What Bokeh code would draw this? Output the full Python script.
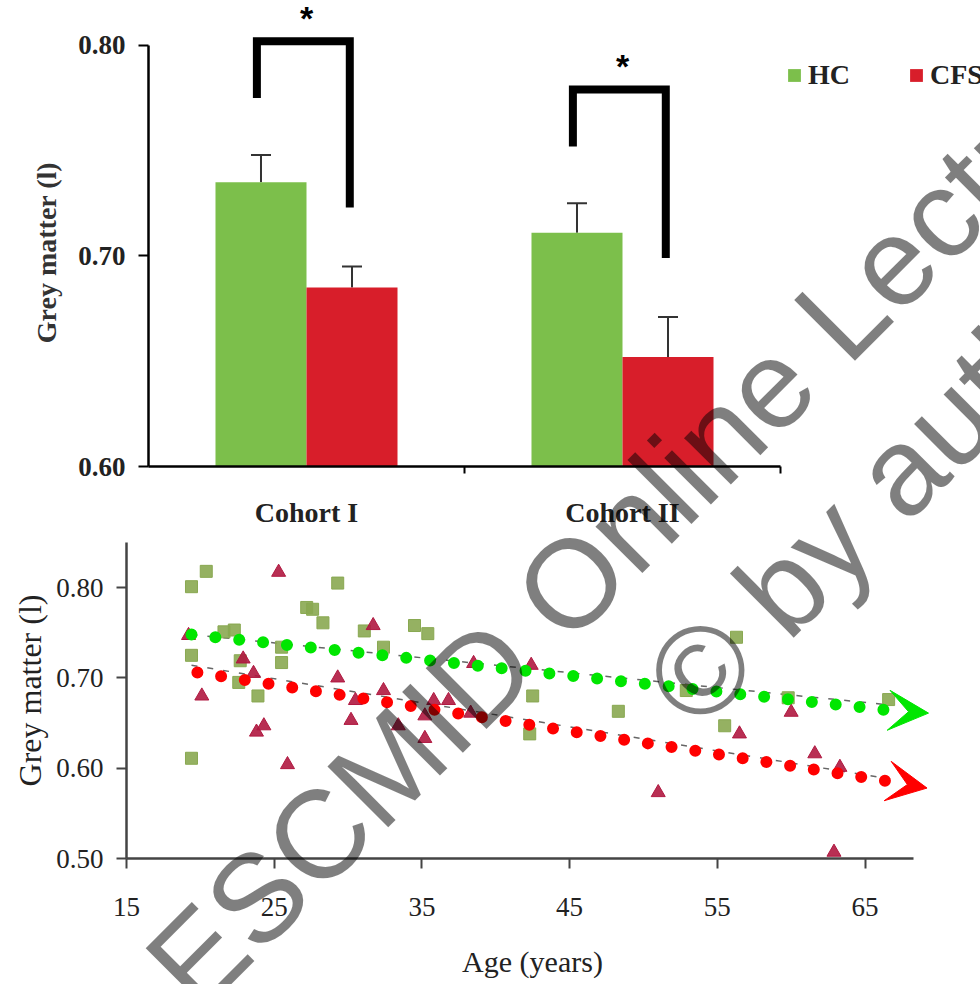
import numpy as np
from bokeh.plotting import figure
from bokeh.models import (ColumnDataSource, Range1d, FixedTicker, PrintfTickFormatter,
                          Whisker, TeeHead, Legend, LegendItem, Label, Arrow, VeeHead)
from bokeh.layouts import column
from bokeh.embed import file_html
from bokeh.resources import INLINE
from bokeh.core.properties import value

# ---------------- data: bar chart (top) ----------------
cohorts = ["Cohort I", "Cohort II"]
hc_mean = [0.735, 0.711]
hc_sem = [0.013, 0.014]
cfs_mean = [0.685, 0.652]
cfs_sem = [0.010, 0.019]
group_names = ["HC", "CFS"]
sig_marks = ["*", "*"]
bar_ticks = [0.60, 0.70, 0.80]
bar_ylabel = "Grey matter (l)"

# ---------------- data: scatter (bottom) ----------------
hc_age = [19.4, 20.4, 19.4, 19.4, 21.6, 22.3, 22.7, 22.6, 23.9, 25.5, 25.5, 27.2, 27.6,
          28.3, 29.3, 31.1, 32.4, 34.5, 35.4, 42.5, 42.3, 48.3, 52.9, 56.3, 55.5, 59.8, 66.6]
hc_gm = [0.801, 0.818, 0.725, 0.611, 0.751, 0.753, 0.719, 0.695, 0.680, 0.734, 0.717, 0.778, 0.776,
         0.761, 0.805, 0.752, 0.734, 0.758, 0.749, 0.680, 0.638, 0.663, 0.686, 0.745, 0.647, 0.678, 0.676]
cfs_age = [25.3, 19.2, 22.9, 20.1, 23.6, 23.8, 24.3, 25.9, 29.3, 31.7, 30.2, 30.5, 32.4, 33.4,
           35.2, 35.2, 35.8, 36.8, 38.5, 38.3, 42.4, 51.0, 56.5, 60.0, 61.6, 63.3, 62.9]
cfs_gm = [0.817, 0.747, 0.721, 0.680, 0.705, 0.640, 0.647, 0.604, 0.700, 0.758, 0.653, 0.675, 0.686, 0.647,
          0.658, 0.633, 0.675, 0.675, 0.716, 0.661, 0.714, 0.573, 0.638, 0.662, 0.616, 0.601, 0.507]
hc_fit_age = [19.4, 66.7]
hc_fit_gm = [0.748, 0.670]
cfs_fit_age = [19.4, 66.7]
cfs_fit_gm = [0.714, 0.588]
hc_arrow_age = [19.4, 66.7, 69.3]
hc_arrow_gm = [0.748, 0.664, 0.661]
cfs_arrow_age = [19.8, 66.8, 69.2]
cfs_arrow_gm = [0.706, 0.585, 0.578]
age_ticks = [15, 25, 35, 45, 55, 65]
gm_ticks = [0.50, 0.60, 0.70, 0.80]
scat_ylabel = "Grey matter (l)"
scat_xlabel = "Age (years)"

watermark = ["ESCMID Online Lecture", "\u00a9 by author"]

SERIF = "Liberation Serif"
SANS = "Liberation Sans"
GREEN = "#7cbf4b"
RED = "#d81e2a"

# ================= TOP: bar chart =================
top = figure(width=980, height=530, output_backend="svg", toolbar_location=None,
             x_range=Range1d(0, 832 / 316), y_range=Range1d(0.60, 0.60 + 467 / 2110),
             min_border_left=148, min_border_right=0, min_border_top=0, min_border_bottom=63,
             background_fill_color="white", border_fill_color="white")
top.outline_line_color = None
top.grid.visible = False

centers = np.arange(len(cohorts)) + 0.5
bw = 0.288
src_hc = ColumnDataSource(dict(x=centers - bw / 2, top=hc_mean,
                               upper=np.array(hc_mean) + np.array(hc_sem)))
src_cfs = ColumnDataSource(dict(x=centers + bw / 2, top=cfs_mean,
                                upper=np.array(cfs_mean) + np.array(cfs_sem)))
r_hc = top.vbar(x="x", top="top", bottom=0.60, width=bw, source=src_hc,
                fill_color=GREEN, line_color=None)
r_cfs = top.vbar(x="x", top="top", bottom=0.60, width=bw, source=src_cfs,
                 fill_color=RED, line_color=None)
for s in (src_hc, src_cfs):
    top.add_layout(Whisker(source=s, base="x", lower="top", upper="upper",
                           lower_head=None,
                           upper_head=TeeHead(size=20, line_width=2, line_color="#333333"),
                           line_width=2, line_color="#333333"))

# significance brackets
for i, c in enumerate(centers):
    lb = hc_mean[i] + hc_sem[i] + 0.027
    rb = cfs_mean[i] + cfs_sem[i] + 0.028
    tp = lb + 0.027
    top.line(x=[c - 0.157, c - 0.157, c + 0.137, c + 0.137], y=[lb, tp, tp, rb],
             line_width=8, line_color="black", line_join="miter", line_cap="butt")
    top.text(x=[c], y=[tp + 0.011], text=[sig_marks[i]], text_font=value(SANS),
             text_font_size="34px", text_font_style="bold", text_align="center",
             text_baseline="alphabetic", text_color="black")

yax = top.yaxis[0]
yax.bounds = (0.60, 0.80)
yax.ticker = FixedTicker(ticks=bar_ticks)
yax.formatter = PrintfTickFormatter(format="%.2f")
yax.axis_line_width = 2.5
yax.axis_line_color = "black"
yax.major_tick_out = 10
yax.major_tick_in = 0
yax.major_tick_line_width = 2
yax.minor_tick_line_color = None
yax.major_label_standoff = 13
yax.major_label_text_font = SERIF
yax.major_label_text_font_size = "27px"
yax.major_label_text_font_style = "bold"
yax.major_label_text_color = "#222222"

xax = top.xaxis[0]
xax.bounds = (0, len(cohorts))
xax.ticker = FixedTicker(ticks=list(centers), minor_ticks=list(np.arange(1, len(cohorts) + 1)))
xax.major_label_overrides = {float(c): n for c, n in zip(centers, cohorts)}
xax.major_tick_line_color = None
xax.major_tick_out = 0
xax.major_tick_in = 0
xax.minor_tick_out = 7
xax.minor_tick_in = 0
xax.minor_tick_line_width = 2
xax.minor_tick_line_color = "black"
xax.axis_line_width = 2.5
xax.axis_line_color = "black"
xax.major_label_standoff = 23
xax.major_label_text_font = SERIF
xax.major_label_text_font_size = "28px"
xax.major_label_text_font_style = "bold"
xax.major_label_text_color = "#222222"

legend = Legend(items=[LegendItem(label=group_names[0], renderers=[r_hc]),
                       LegendItem(label=group_names[1], renderers=[r_cfs])],
                orientation="horizontal", location=(638, 375), padding=0, margin=0,
                spacing=58, label_standoff=6, glyph_width=16, glyph_height=16,
                background_fill_alpha=0, border_line_color=None,
                label_text_font=SERIF, label_text_font_size="28px",
                label_text_font_style="bold", label_text_color="#222222")
top.add_layout(legend, "center")

# ================= BOTTOM: scatter =================
bot = figure(width=980, height=454, output_backend="svg", toolbar_location=None,
             x_range=Range1d(15, 15 + 854 / 14.77), y_range=Range1d(0.50, 0.50 + 318 / 903),
             min_border_left=126, min_border_right=0, min_border_top=10, min_border_bottom=126,
             background_fill_color="white", border_fill_color="white")
bot.outline_line_color = None
bot.grid.visible = False

bot.line(hc_fit_age, hc_fit_gm, line_color="#666666", line_width=1.5, line_dash="6 10")
bot.line(cfs_fit_age, cfs_fit_gm, line_color="#666666", line_width=1.5, line_dash="6 10")
bot.scatter(hc_age, hc_gm, marker="square", size=12, fill_color="#89a851",
            line_color="#89a851", fill_alpha=0.9)
bot.scatter(cfs_age, cfs_gm, marker="triangle", size=14, fill_color="#b01840",
            line_color="#b01840", fill_alpha=0.9)

for ax_, ay_, col in ((hc_arrow_age, hc_arrow_gm, "#00e600"), (cfs_arrow_age, cfs_arrow_gm, "#ff0000")):
    bot.line(ax_[:2], ay_[:2], line_color=col, line_width=12, line_dash="0 24", line_cap="round")
    bot.add_layout(Arrow(end=VeeHead(size=40, fill_color=col, line_color=col),
                         x_start=ax_[1], y_start=ay_[1], x_end=ax_[2], y_end=ay_[2],
                         line_alpha=0))

bx = bot.xaxis[0]
bx.bounds = (15, 68.3)
bx.ticker = FixedTicker(ticks=age_ticks)
by = bot.yaxis[0]
by.bounds = (0.50, 0.85)
by.ticker = FixedTicker(ticks=gm_ticks)
by.formatter = PrintfTickFormatter(format="%.2f")
for ax in (bx, by):
    ax.axis_line_width = 2.5
    ax.axis_line_color = "#444444"
    ax.major_tick_out = 10
    ax.major_tick_in = 0
    ax.major_tick_line_width = 2
    ax.major_tick_line_color = "#444444"
    ax.minor_tick_line_color = None
    ax.major_label_text_font = SERIF
    ax.major_label_text_font_size = "27px"
    ax.major_label_text_color = "#222222"
by.major_label_standoff = 13
bx.major_label_standoff = 29

# ====== transparent overlay covering the page: axis titles + watermark (unclipped) ======
ov = figure(width=980, height=984, output_backend="svg", toolbar_location=None,
            x_range=Range1d(0, 980), y_range=Range1d(984, 0),
            x_axis_type=None, y_axis_type=None, min_border=0,
            background_fill_alpha=0, border_fill_alpha=0,
            styles={"position": "absolute", "top": "0px", "left": "0px",
                    "z-index": "10", "pointer-events": "none"})
ov.outline_line_color = None
ov.grid.visible = False

# keep each plot's frame independent (no border synchronisation in the column)
for f in (top, bot, ov):
    try:
        f.frame_align = False
    except Exception:
        pass

# axis titles (page-pixel placement)
ov.add_layout(Label(x=46, y=252, text=bar_ylabel, angle=90, angle_units="deg",
                    text_font=SERIF, text_font_size="28px", text_font_style="bold",
                    text_color="#333333", text_align="center", text_baseline="middle"))
ov.add_layout(Label(x=29, y=690, text=scat_ylabel, angle=90, angle_units="deg",
                    text_font=SERIF, text_font_size="32px", text_font_style="normal",
                    text_color="#222222", text_align="center", text_baseline="middle"))
ov.add_layout(Label(x=532, y=961, text=scat_xlabel,
                    text_font=SERIF, text_font_size="30px", text_font_style="normal",
                    text_color="#222222", text_align="center", text_baseline="middle"))

wm_anchor_px = [(168, 985), (667, 702)]
for txt, (px, py) in zip(watermark, wm_anchor_px):
    ov.add_layout(Label(x=px, y=py, text=txt, angle=45, angle_units="deg",
                        text_font=SANS, text_font_size="125px", text_color="black",
                        text_alpha=0.5, text_align="left", text_baseline="alphabetic"))

layout = column(top, bot, ov, spacing=0)
open("out.html", "w").write(file_html(layout, INLINE))
